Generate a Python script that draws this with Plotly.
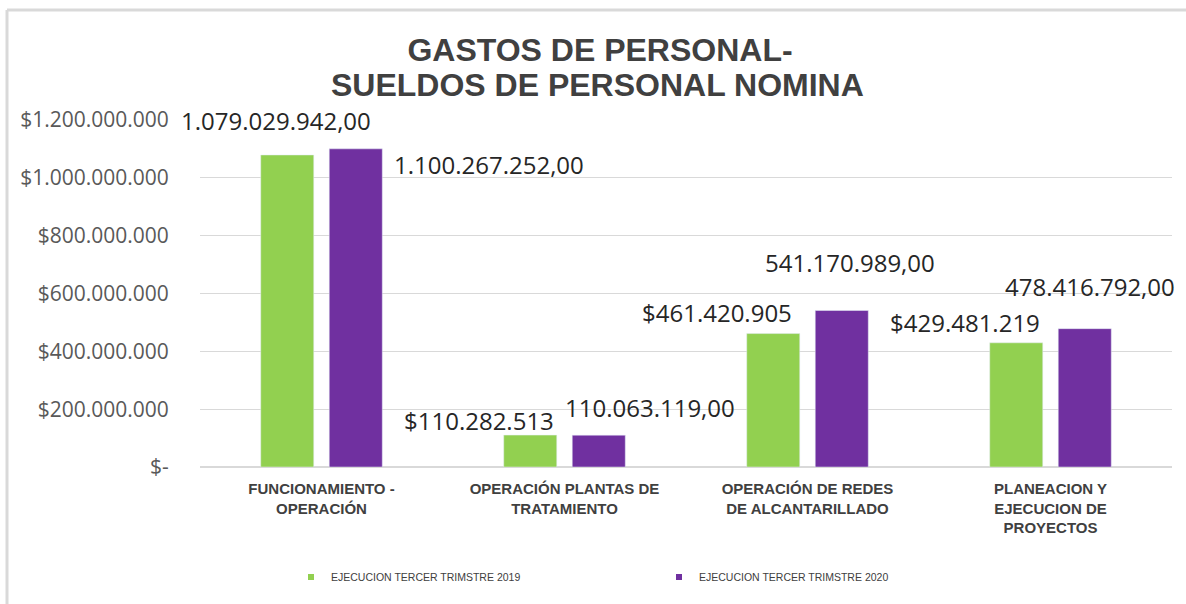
import plotly.graph_objects as go

categories = [
    "FUNCIONAMIENTO -<br>OPERACIÓN",
    "OPERACIÓN PLANTAS DE<br>TRATAMIENTO",
    "OPERACIÓN DE REDES<br>DE ALCANTARILLADO",
    "PLANEACION Y<br>EJECUCION DE<br>PROYECTOS",
]
series_names = ["EJECUCION TERCER TRIMSTRE 2019", "EJECUCION TERCER TRIMSTRE 2020"]
values_2019 = [1079029942, 110282513, 461420905, 429481219]
values_2020 = [1100267252, 110063119, 541170989, 478416792]
label_style_2019 = ["decimal", "money", "money", "money"]
label_style_2020 = ["decimal", "decimal", "decimal", "decimal"]
tick_vals = [0, 200000000, 400000000, 600000000, 800000000, 1000000000, 1200000000]
tick_text = ["$-", "$200.000.000", "$400.000.000", "$600.000.000",
             "$800.000.000", "$1.000.000.000", "$1.200.000.000"]
title_line1 = "GASTOS DE PERSONAL-"
title_line2 = "SUELDOS DE PERSONAL NOMINA"

GREEN = "#92D050"
PURPLE = "#7030A0"


def dotted(v):
    return f"{int(v):,}".replace(",", ".")


def fmt(v, style):
    return "$" + dotted(v) if style == "money" else dotted(v) + ",00"


# pixel offsets of the data labels relative to each bar's top-centre
off_2019 = [(-12, 34), (-52, 15), (-57, 21), (-52, 20)]
off_2020 = [(133, -16), (51, 28), (8, 48), (5, 42)]

ML, MR, MT, MB = 200, 14, 120, 137
W, H = 1186, 604
PW, PH = W - ML - MR, H - MT - MB
BAR_OFF = 34


def px_x(px):
    return (px - ML) / PW


def px_y(py):
    return (PH - (py - MT)) / PH


fig = go.Figure()
fig.add_trace(go.Bar(x=categories, y=values_2019, name=series_names[0],
                     marker_color=GREEN, showlegend=False))
fig.add_trace(go.Bar(x=categories, y=values_2020, name=series_names[1],
                     marker_color=PURPLE, showlegend=False))
# legend entries with small square markers
for nm, col in zip(series_names, [GREEN, PURPLE]):
    fig.add_trace(go.Scatter(x=[None], y=[None], mode="markers", name=nm,
                             marker=dict(symbol="square", size=6, color=col)))

annotations = []
for vals, styles, offs, sign in [(values_2019, label_style_2019, off_2019, -1),
                                 (values_2020, label_style_2020, off_2020, 1)]:
    for cat, v, st, (dx, dy) in zip(categories, vals, styles, offs):
        annotations.append(dict(
            x=cat, y=v, xref="x", yref="y", text=fmt(v, st), showarrow=False,
            xshift=sign * BAR_OFF + dx, yshift=dy, xanchor="center", yanchor="middle",
            font=dict(family="Open Sans", size=24, color="#262626")))

# second title line
annotations.append(dict(
    x=px_x(597), y=px_y(85), xref="paper", yref="paper", text=title_line2,
    showarrow=False, xanchor="center", yanchor="middle",
    font=dict(family="Liberation Sans", size=32, color="#404040", weight="bold")))

fig.update_layout(
    width=W, height=H,
    margin=dict(l=ML, r=MR, t=MT, b=MB, autoexpand=False),
    paper_bgcolor="white", plot_bgcolor="white",
    barmode="group", bargap=0.436, bargroupgap=0.226,
    title=dict(text=title_line1, xref="container", yref="container",
               x=600 / W, xanchor="center", y=1 - 50 / H, yanchor="middle",
               font=dict(family="Liberation Sans", size=32, color="#404040", weight="bold")),
    xaxis=dict(type="category", range=[-0.5, 3.5], showgrid=False, showline=False,
               automargin=False, ticks="outside", ticklen=8, tickcolor="rgba(0,0,0,0)",
               tickfont=dict(family="Liberation Sans", size=15, color="#404040", weight="bold")),
    yaxis=dict(range=[0, 1200000000], tickvals=tick_vals, ticktext=tick_text,
               showgrid=True, gridcolor="#d9d9d9", gridwidth=1, automargin=False,
               zeroline=True, zerolinecolor="#d9d9d9", zerolinewidth=1.5,
               showline=False, ticks="outside", ticklen=26, tickcolor="rgba(0,0,0,0)",
               tickfont=dict(family="Open Sans", size=21, color="#595959")),
    legend=dict(orientation="h", x=px_x(291), y=px_y(577),
                xanchor="left", yanchor="middle", entrywidth=323, entrywidthmode="pixels",
                font=dict(family="Liberation Sans", size=10.5, color="#404040"),
                itemclick=False, tracegroupgap=0),
    annotations=annotations,
    shapes=[
        dict(type="line", xref="paper", yref="paper",
             x0=px_x(7), x1=px_x(W), y0=px_y(10), y1=px_y(10),
             line=dict(color="#d9d9d9", width=3)),
        dict(type="line", xref="paper", yref="paper",
             x0=px_x(7), x1=px_x(7), y0=px_y(10), y1=px_y(H),
             line=dict(color="#d9d9d9", width=3)),
    ],
)

fig.write_html("out.html", config={"displayModeBar": False},
               post_script="document.body.style.margin='0';")
